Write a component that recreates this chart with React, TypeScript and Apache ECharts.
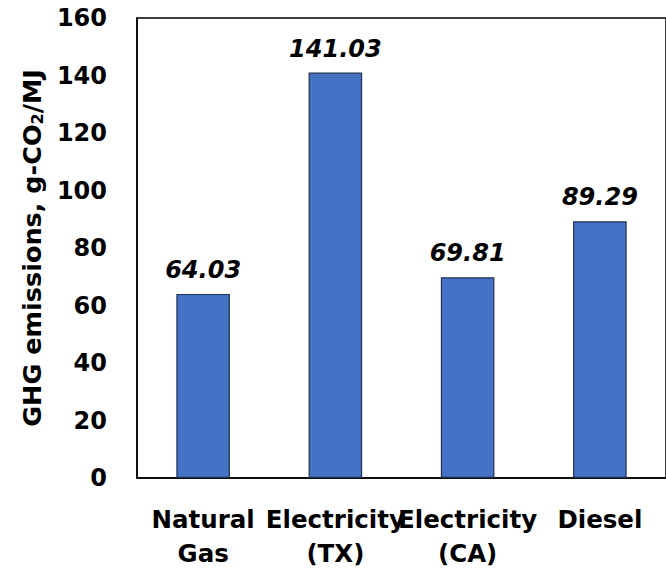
import React, { useEffect, useRef } from "react";
import * as echarts from "echarts";

// Fuel pathways and their life-cycle GHG intensity
const categories = ["Natural\nGas", "Electricity\n(TX)", "Electricity\n(CA)", "Diesel"];
const emissions = [64.03, 141.03, 69.81, 89.29];
const yTicks = { min: 0, max: 160, interval: 20 };

const FONT = "'DejaVu Sans', sans-serif";

export default function App() {
  const ref = useRef<HTMLDivElement>(null);

  useEffect(() => {
    if (!ref.current) return;
    const chart = echarts.init(ref.current, null, { renderer: "svg" });
    chart.setOption({
      animation: false,
      backgroundColor: "#ffffff",
      grid: {
        left: 137,
        top: 18,
        width: 532,
        height: 460,
        show: true,
        borderColor: "#000000",
        borderWidth: 1.5,
        containLabel: false,
      },
      xAxis: {
        type: "category",
        data: categories,
        axisLine: { show: true, lineStyle: { color: "#000000", width: 1.5 } },
        axisTick: { show: false },
        axisLabel: {
          color: "#000000",
          fontFamily: FONT,
          fontWeight: "bold",
          fontSize: 24.5,
          lineHeight: 34,
          margin: 24,
          interval: 0,
        },
      },
      yAxis: {
        type: "value",
        min: yTicks.min,
        max: yTicks.max,
        interval: yTicks.interval,
        splitLine: { show: false },
        axisLine: { show: true, lineStyle: { color: "#000000", width: 1.5 } },
        axisTick: { show: false },
        axisLabel: {
          color: "#000000",
          fontFamily: FONT,
          fontWeight: "bold",
          fontSize: 24,
          margin: 30,
        },
        name: "{a|GHG emissions, g-CO}{s|2}{a|/MJ}",
        nameLocation: "middle",
        nameGap: 92,
        nameTextStyle: {
          rich: {
            a: {
              color: "#000000",
              fontFamily: FONT,
              fontWeight: "bold",
              fontSize: 25.5,
            },
            s: {
              color: "#000000",
              fontFamily: FONT,
              fontWeight: "bold",
              fontSize: 16,
              verticalAlign: "bottom",
              padding: [10, 0, 0, 0],
            },
          },
        },
      },
      series: [
        {
          type: "bar",
          data: emissions,
          barWidth: "40.5%",
          itemStyle: {
            color: "#4472C4",
            borderColor: "#1f2f4f",
            borderWidth: 1.2,
          },
          label: {
            show: true,
            position: "top",
            distance: 12,
            color: "#000000",
            fontFamily: FONT,
            fontWeight: "bold",
            fontStyle: "italic",
            fontSize: 24,
            formatter: (p: any) => Number(p.value).toFixed(2),
          },
        },
      ],
    });
    return () => chart.dispose();
  }, []);

  return (
    <div
      ref={ref}
      style={{ position: "absolute", left: 0, top: 0, width: 666, height: 576 }}
    />
  );
}
